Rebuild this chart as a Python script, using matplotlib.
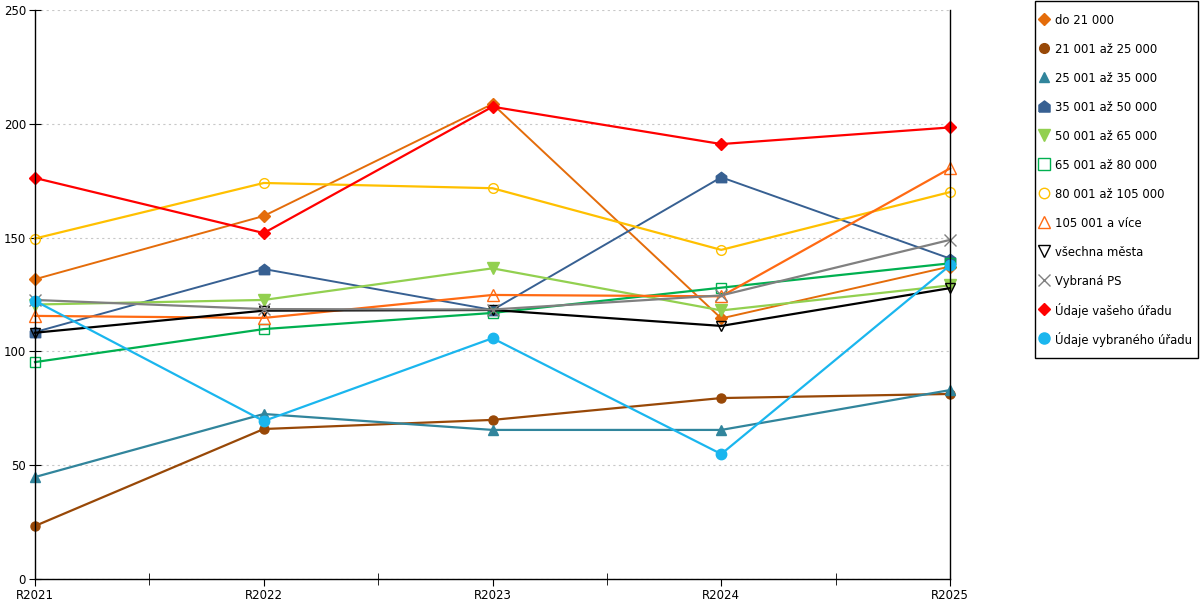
import matplotlib
matplotlib.use("Agg")
import matplotlib.pyplot as plt
from matplotlib.lines import Line2D
from matplotlib.patches import Rectangle
from matplotlib.ticker import FixedLocator

plt.rcParams['font.family'] = ['DejaVu Sans']

years = ["R2021", "R2022", "R2023", "R2024", "R2025"]

labels = [
    "do 21 000",
    "21 001 až 25 000",
    "25 001 až 35 000",
    "35 001 až 50 000",
    "50 001 až 65 000",
    "65 001 až 80 000",
    "80 001 až 105 000",
    "105 001 a více",
    "všechna města",
    "Vybraná PS",
    "Údaje vašeho úřadu",
    "Údaje vybraného úřadu",
]

do_21 = [131.7, 159.5, 208.7, 114.5, 137.3]
od_21_25 = [23.3, 65.9, 69.9, 79.5, 81.3]
od_25_35 = [44.8, 72.5, 65.5, 65.5, 83.0]
od_35_50 = [108.5, 136.2, 118.2, 176.5, 140.8]
od_50_65 = [120.6, 122.6, 136.5, 118.0, 129.0]
od_65_80 = [95.3, 109.8, 116.9, 128.0, 138.7]
od_80_105 = [149.6, 174.0, 171.7, 144.6, 170.0]
nad_105 = [115.6, 114.7, 124.8, 124.2, 180.4]
vsechna = [108.2, 117.9, 118.2, 111.2, 127.8]
vybrana_ps = [122.6, 118.6, 118.4, 124.6, 149.0]
vas_urad = [176.2, 152.0, 207.5, 191.1, 198.4]
vybrany_urad = [122.2, 69.4, 105.8, 54.9, 137.8]

series = [do_21, od_21_25, od_25_35, od_35_50, od_50_65, od_65_80,
          od_80_105, nad_105, vsechna, vybrana_ps, vas_urad, vybrany_urad]

house = [(-1, -1), (1, -1), (1, 0.25), (0, 1), (-1, 0.25), (-1, -1)]

# (line color, marker, marker size, filled, line width)
styles = [
    ("#E46C0A", "D", 6, True, 1.4),
    ("#984807", "o", 6.5, True, 1.6),
    ("#31859C", "^", 7, True, 1.6),
    ("#376092", house, 7.5, True, 1.4),
    ("#92D050", "v", 8, True, 1.6),
    ("#00B050", "s", 7.5, False, 1.6),
    ("#FFC000", "o", 7, False, 1.6),
    ("#FF6A13", "^", 8, False, 1.6),
    ("#000000", "v", 7.5, False, 1.6),
    ("#808080", "x", 8, False, 1.6),
    ("#FF0000", "D", 6, True, 1.6),
    ("#1AB6EE", "o", 7.5, True, 1.6),
]

W, H = 1200, 600
fig = plt.figure(figsize=(12, 6), dpi=100)
ax = fig.add_axes([35 / W, 21 / H, 915 / W, 569 / H])

x = list(range(len(years)))
for vals, lab, (col, mk, ms, filled, lw) in zip(series, labels, styles):
    face = col if filled else "none"
    ax.plot(x, vals, color=col, lw=lw, marker=mk, markersize=ms,
            markerfacecolor=face, markeredgecolor=col,
            markeredgewidth=1.0, clip_on=False, label=lab)

ax.set_xlim(0, 4)
ax.set_ylim(0, 250)
ax.set_yticks([0, 50, 100, 150, 200, 250])
ax.set_xticks(x)
ax.set_xticklabels(years)
ax.xaxis.set_minor_locator(FixedLocator([0.5, 1.5, 2.5, 3.5]))
ax.tick_params(axis="x", which="major", direction="out", length=5,
               labelsize=8.5, pad=2)
ax.tick_params(axis="x", which="minor", direction="inout", length=9)
ax.tick_params(axis="y", which="major", direction="inout", length=9,
               labelsize=8.5, pad=2)
ax.grid(axis="y", color="#C8C8C8", linestyle=(0, (2, 3)), linewidth=0.8)
ax.set_axisbelow(True)
ax.spines["top"].set_visible(False)
for s in ("left", "bottom", "right"):
    ax.spines[s].set_linewidth(1.0)
    ax.spines[s].set_color("black")

# legend drawn by hand so the rows sit evenly like the original
fig.patches.append(Rectangle((1035 / W, 1 - 358 / H), 163 / W, 357 / H,
                             transform=fig.transFigure, fill=False,
                             edgecolor="black", linewidth=1.0))
for i, (lab, (col, mk, ms, filled, lw)) in enumerate(zip(labels, styles)):
    yy = 1 - (19 + 29 * i) / H
    face = col if filled else "none"
    fig.add_artist(Line2D([1044 / W], [yy], transform=fig.transFigure,
                          linestyle="none", marker=mk, markersize=ms + 0.5,
                          markerfacecolor=face, markeredgecolor=col,
                          markeredgewidth=1.0))
    fig.text(1055 / W, yy, lab, fontsize=8.4, va="center_baseline",
             ha="left")

fig.savefig("out.png", dpi=100)
